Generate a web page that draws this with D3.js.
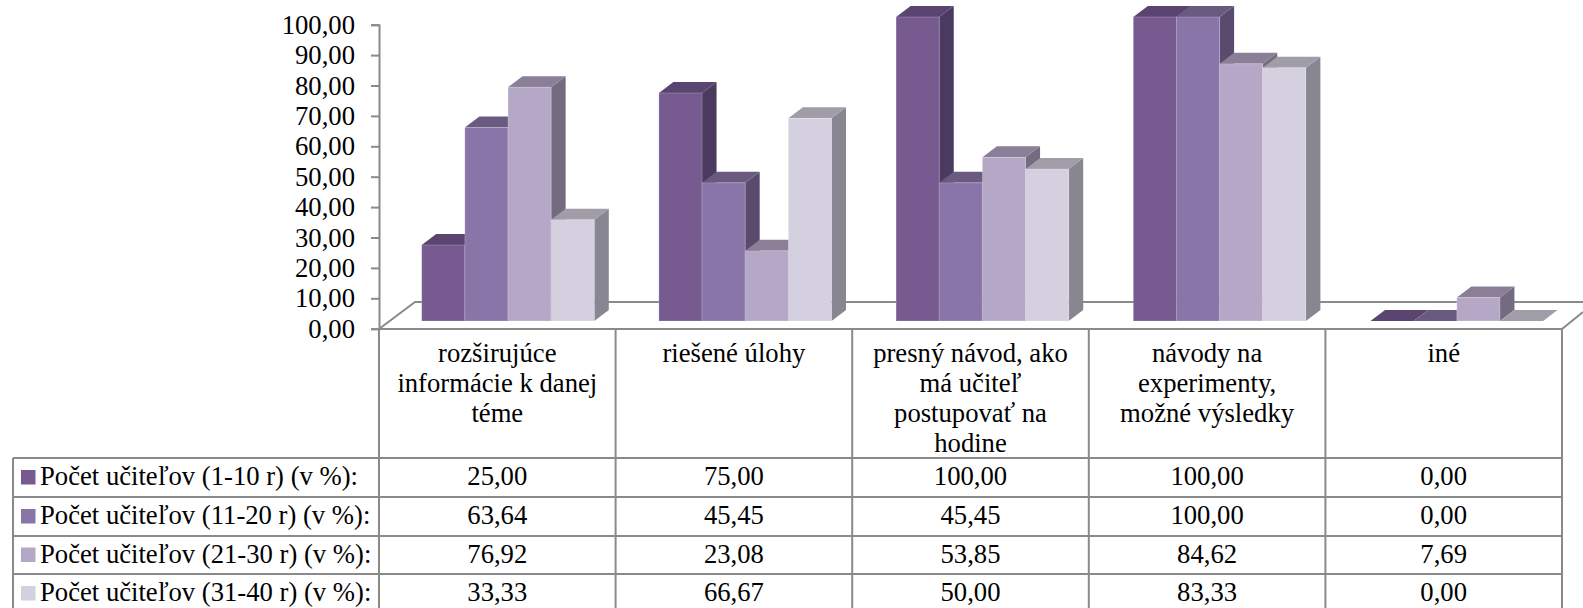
<!DOCTYPE html>
<html lang="sk">
<head>
<meta charset="utf-8">
<script src="https://cdn.jsdelivr.net/npm/d3@7"></script>
<style>
html,body{margin:0;padding:0;background:#fff;overflow:hidden}
svg{display:block}
text{font-family:"Liberation Serif","Times New Roman",serif;fill:#000}
</style>
</head>
<body>
<svg id="chart" width="1583" height="608"></svg>
<script>
// Category labels, already broken into the lines shown in the table header
const categories = ["rozširujúce", "riešené úlohy", "presný návod", "návody", "iné"];
const categoryLines = [
  ["rozširujúce", "informácie k danej", "téme"],
  ["riešené úlohy"],
  ["presný návod, ako", "má učiteľ", "postupovať na", "hodine"],
  ["návody na", "experimenty,", "možné výsledky"],
  ["iné"]
];
const seriesNames = [
  "Počet učiteľov (1-10 r) (v %):",
  "Počet učiteľov (11-20 r) (v %):",
  "Počet učiteľov (21-30 r) (v %):",
  "Počet učiteľov (31-40 r) (v %):"
];
const values1 = [25.00, 75.00, 100.00, 100.00, 0.00];
const values2 = [63.64, 45.45, 45.45, 100.00, 0.00];
const values3 = [76.92, 23.08, 53.85, 84.62, 7.69];
const values4 = [33.33, 66.67, 50.00, 83.33, 0.00];
const seriesValues = [values1, values2, values3, values4];
const yTicks = [0, 10, 20, 30, 40, 50, 60, 70, 80, 90, 100];

const frontColors = ["#765a90", "#8a75a9", "#b5a8c6", "#d5d0e0"];
const topColors   = ["#5a4470", "#6a5a80", "#8a7f96", "#a09da8"];
const sideColors  = ["#4b3a60", "#5a4b6e", "#756b80", "#888690"];
const lineColor = "#8a8a8a";
const fontSize = 26.67;

const fmt = v => v.toFixed(2).replace(".", ",");
const svg = d3.select("#chart");

// Scales: the axis sits on the front edge of the floor, bars stand further back
const plotLeft = 379, plotRight = 1562, floorFront = 329, floorBack = 302;
const y = d3.scaleLinear().domain([0, 100]).range([328.7, 24.7]);
const x = d3.scaleBand().domain(d3.range(categories.length)).range([plotLeft, plotRight]);
const groups = d3.scaleBand().domain(d3.range(categories.length)).range([421.7, 421.7 + 5 * 237.2]);
const inner = d3.scaleBand().domain(d3.range(seriesNames.length)).range([0, 172.6]);
const barShiftY = -7.7;   // bar foot sits this far behind the floor's front edge
const depthX = 14.5, depthY = -11;

// Floor outline
const floor = svg.append("g").attr("fill", "none").attr("stroke", lineColor).attr("stroke-width", 2);
floor.append("path").attr("d", d3.line()([
  [plotLeft, floorFront], [plotLeft + 36, floorBack], [1583, floorBack]
]));
floor.append("path").attr("d", d3.line()([
  [plotLeft, floorFront], [plotRight, floorFront], [1583, 312]
]));

// Value axis
const axis = svg.append("g").attr("transform", `translate(${plotLeft},0)`)
  .call(d3.axisLeft(y).tickValues(yTicks).tickFormat(fmt).tickSize(8).tickPadding(16));
axis.selectAll("line,path").attr("stroke", lineColor).attr("stroke-width", 2);
axis.selectAll("text").attr("font-size", fontSize).attr("font-family", "Liberation Serif").attr("fill", "#000");

// 3D columns, left to right so each one covers its neighbour's side face
const bars = svg.append("g");
categories.forEach((_, c) => {
  seriesValues.forEach((vals, s) => {
    const x0 = groups(c) + inner(s);
    const x1 = x0 + inner.bandwidth();
    const yTop = y(vals[c]) + barShiftY;
    const yBase = y(0) + barShiftY;
    const g = bars.append("g");
    g.append("path").attr("fill", sideColors[s]).attr("d", d3.line()([
      [x1, yTop], [x1 + depthX, yTop + depthY], [x1 + depthX, yBase + depthY], [x1, yBase]
    ]) + "Z");
    g.append("path").attr("fill", topColors[s]).attr("d", d3.line()([
      [x0, yTop], [x0 + depthX, yTop + depthY], [x1 + depthX, yTop + depthY], [x1, yTop]
    ]) + "Z");
    g.append("rect").attr("fill", frontColors[s])
      .attr("stroke", "#fff").attr("stroke-opacity", 0.2).attr("stroke-width", 1)
      .attr("x", x0).attr("y", yTop).attr("width", inner.bandwidth()).attr("height", yBase - yTop);
  });
});

// Data table below the plot
const tableLeft = 13, rowEdges = [458, 497, 536, 574, 613];
const table = svg.append("g").attr("stroke", lineColor).attr("stroke-width", 2);
d3.range(categories.length + 1).forEach(i => {
  const px = plotLeft + i * x.step();
  table.append("line").attr("x1", px).attr("x2", px).attr("y1", floorFront).attr("y2", 613);
});
table.append("line").attr("x1", tableLeft).attr("x2", tableLeft).attr("y1", rowEdges[0]).attr("y2", 613);
rowEdges.forEach(ry => {
  table.append("line").attr("x1", tableLeft).attr("x2", plotRight).attr("y1", ry).attr("y2", ry);
});

// Category headers
const headers = svg.append("g").attr("font-size", fontSize).attr("text-anchor", "middle");
categoryLines.forEach((lines, c) => {
  lines.forEach((line, i) => {
    headers.append("text")
      .attr("x", x(c) + x.bandwidth() / 2).attr("y", 362 + i * 30).text(line);
  });
});

// Table rows: legend key, series name, then one value per category
const rows = svg.append("g").attr("font-size", fontSize);
seriesNames.forEach((name, s) => {
  const cy = (rowEdges[s] + rowEdges[s + 1]) / 2;
  const baseline = cy + 7.5;
  rows.append("rect").attr("x", 21).attr("y", cy - 7.5).attr("width", 14.5).attr("height", 14.5)
    .attr("fill", frontColors[s]);
  rows.append("text").attr("x", 40).attr("y", baseline).text(name);
  seriesValues[s].forEach((v, c) => {
    rows.append("text").attr("x", x(c) + x.bandwidth() / 2).attr("y", baseline)
      .attr("text-anchor", "middle").text(fmt(v));
  });
});
</script>
</body>
</html>
